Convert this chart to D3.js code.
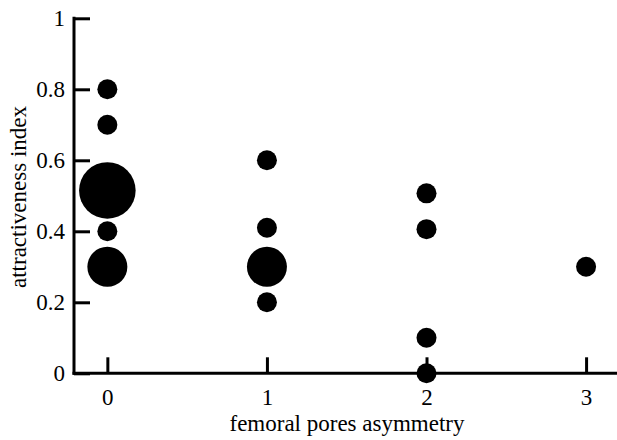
<!DOCTYPE html>
<html>
<head>
<meta charset="utf-8">
<script src="https://cdn.jsdelivr.net/npm/d3@7"></script>
<style>
  html, body { margin: 0; padding: 0; background: #fff; }
  svg { display: block; }
  svg text { font-family: "Liberation Serif", "Times New Roman", Times, serif; fill: #000; }
</style>
</head>
<body>
<svg id="chart" width="617" height="440"></svg>
<script>
// Data
const asymmetry = [0, 0, 0, 0, 0, 1, 1, 1, 1, 2, 2, 2, 2, 3];
const attractiveness = [0.80, 0.70, 0.515, 0.40, 0.30, 0.60, 0.41, 0.30, 0.20, 0.507, 0.406, 0.10, 0.0, 0.30];
const counts = [1, 1, 8, 1, 4, 1, 1, 4, 1, 1, 1, 1, 1, 1];
const xTicks = [0, 1, 2, 3];
const yTicks = [0, 0.2, 0.4, 0.6, 0.8, 1];

const svg = d3.select("#chart");
const fs = "23px";

const x = d3.scaleLinear().domain([-0.209, 3.2]).range([74, 618]);
const y = d3.scaleLinear().domain([0, 1]).range([373.3, 18.3]);
const r = d3.scaleSqrt().domain([0, 1]).range([0, 10]);

// Y axis
const yAxis = d3.axisLeft(y).tickValues(yTicks).tickFormat(d => d === 0 ? "0" : d === 1 ? "1" : d3.format(".1f")(d)).tickSizeInner(-16).tickSizeOuter(0);
const gy = svg.append("g").attr("transform", "translate(74,0)").call(yAxis);
gy.attr("font-family", null).attr("font-size", null);
gy.select(".domain").attr("stroke", "#000").attr("stroke-width", 3).attr("d", `M0,${y(1)-1.5}V${y(0)+1.5}`);
gy.selectAll(".tick line").attr("stroke", "#000").attr("stroke-width", 3);
gy.selectAll(".tick text").style("font-size", fs).attr("x", -9);

// X axis
const xAxis = d3.axisBottom(x).tickValues(xTicks).tickFormat(d3.format("d")).tickSizeInner(-16).tickSizeOuter(0);
const gx = svg.append("g").attr("transform", `translate(0,${y(0)})`).call(xAxis);
gx.attr("font-family", null).attr("font-size", null);
gx.select(".domain").attr("stroke", "#000").attr("stroke-width", 3).attr("d", `M${74-1.5},0H618`);
gx.selectAll(".tick line").attr("stroke", "#000").attr("stroke-width", 3);
gx.selectAll(".tick text").style("font-size", fs).attr("y", 15).attr("dy", "0.71em");

// Points
svg.append("g").selectAll("circle")
  .data(asymmetry.map((a, i) => ({a, v: attractiveness[i], n: counts[i]})))
  .join("circle")
  .attr("cx", d => x(d.a))
  .attr("cy", d => y(d.v))
  .attr("r", d => r(d.n))
  .attr("fill", "#000");

// Axis titles
svg.append("text")
  .attr("x", 347).attr("y", 431)
  .attr("text-anchor", "middle")
  .style("font-size", fs)
  .text("femoral pores asymmetry");

svg.append("text")
  .attr("transform", "translate(26,197) rotate(-90)")
  .attr("text-anchor", "middle")
  .style("font-size", fs)
  .text("attractiveness index");
</script>
</body>
</html>
